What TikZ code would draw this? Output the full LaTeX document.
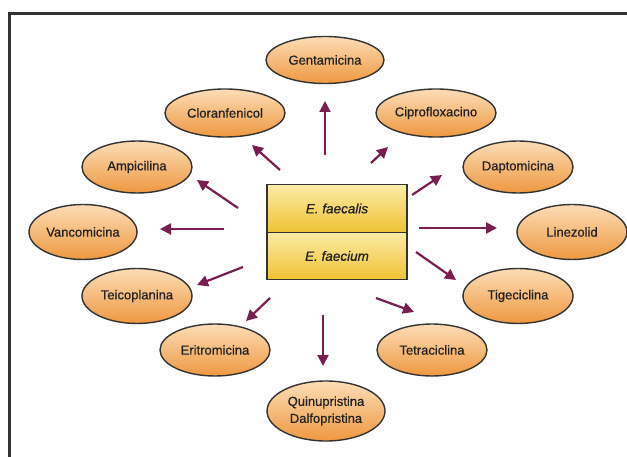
\documentclass[tikz,border=0pt]{standalone}
\usepackage{fontspec}
\setmainfont{Liberation Sans}
\newfontfamily\lab{Liberation Sans}[FakeBold=0.6]
\newfontfamily\labit{Liberation Sans Italic}[FakeBold=0.6]
\usetikzlibrary{shapes.geometric,arrows.meta}
\definecolor{arrowc}{HTML}{7A1E4F}
\definecolor{elltop}{HTML}{FCDDB6}
\definecolor{ellbot}{HTML}{EE9840}
\definecolor{boxtop}{HTML}{FBEBA6}
\definecolor{boxbot}{HTML}{EFC232}
\definecolor{edgec}{HTML}{333333}
\definecolor{txtc}{HTML}{222222}
\tikzset{
  drug/.style={ellipse, draw=edgec, line width=1.4pt, top color=elltop, bottom color=ellbot,
    minimum width=110pt, minimum height=52pt, inner sep=0pt, align=center,
    font=\lab\fontsize{13}{17}\selectfont, text=txtc},
  half/.style={rectangle, draw=edgec, line width=1.4pt, top color=boxtop, bottom color=boxbot,
    minimum width=140pt, minimum height=47.5pt, inner sep=0pt,
    font=\labit\fontsize{13.5}{15}\selectfont, text=txtc},
  arr/.style={draw=arrowc, line width=2.2pt, -{Triangle[length=11pt,width=11pt]}},
}
\begin{document}
\begin{tikzpicture}[x=1pt,y=-1pt]
\useasboundingbox (0,0) rectangle (627,457);
\draw[line width=3pt, edgec] (9.5,457) -- (9.5,13.5) -- (627,13.5);
% centre box
\node[half] (fae) at (337,208.5) {E. faecalis};
\node[half] (fcm) at (337,256) {E. faecium};
% drugs
\node[drug, minimum width=118pt, minimum height=47pt] (gen) at (325,60) {Gentamicina};
\node[drug, minimum width=120pt, minimum height=48pt] (clo) at (225,113) {Cloranfenicol};
\node[drug, minimum width=120pt, minimum height=48pt] (cip) at (436,113) {Ciprofloxacino};
\node[drug] (amp) at (137,167) {Ampicilina};
\node[drug] (dap) at (518,167) {Daptomicina};
\node[drug, minimum width=108pt, minimum height=55pt] (van) at (83,232) {Vancomicina};
\node[drug, minimum width=110pt, minimum height=55pt] (lin) at (572,232) {Linezolid};
\node[drug, minimum height=55pt] (tei) at (137,296) {Teicoplanina};
\node[drug, minimum height=55pt] (tig) at (518,296) {Tigeciclina};
\node[drug] (eri) at (215,350) {Eritromicina};
\node[drug] (tet) at (432,350) {Tetraciclina};
\node[drug, minimum width=118pt, minimum height=60pt] (qui) at (326,411) {Quinupristina\\Dalfopristina};
% arrow ends
\coordinate (s1) at (325,155); \coordinate (e1) at (325,101);
\coordinate (s2) at (280,170); \coordinate (e2) at (252,145);
\coordinate (s3) at (371,163); \coordinate (e3) at (388,147);
\coordinate (s4) at (238,208); \coordinate (e4) at (197,180);
\coordinate (s5) at (412,195); \coordinate (e5) at (442,175);
\coordinate (s6) at (224,229); \coordinate (e6) at (160,229);
\coordinate (s7) at (419,228); \coordinate (e7) at (497,228);
\coordinate (s8) at (243,267); \coordinate (e8) at (197,285);
\coordinate (s9) at (416,252); \coordinate (e9) at (456,280);
\coordinate (s10) at (270,298); \coordinate (e10) at (246,321);
\coordinate (s11) at (323,315); \coordinate (e11) at (323,366);
\coordinate (s12) at (376,298); \coordinate (e12) at (414,312);
\foreach \i in {1,...,12} \draw[arr] (s\i) -- (e\i);
\end{tikzpicture}
\end{document}
